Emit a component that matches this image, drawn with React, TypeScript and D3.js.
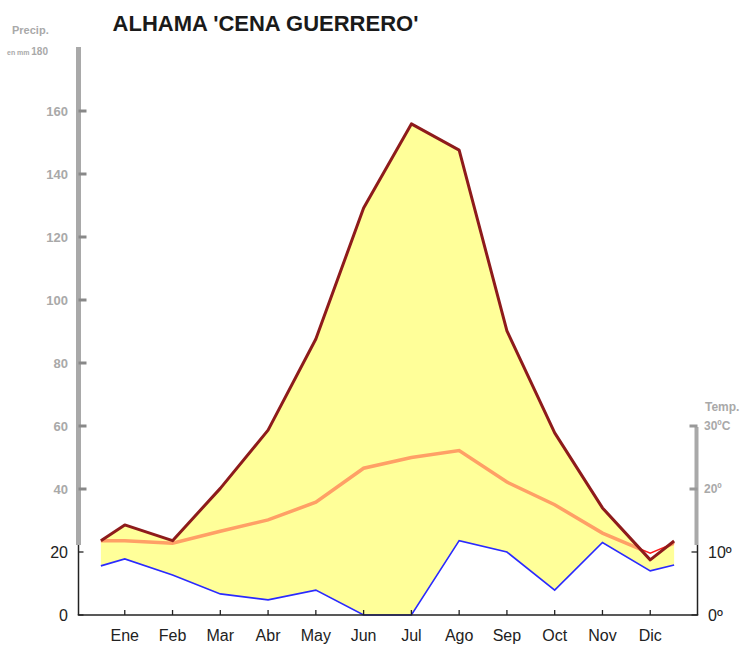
import React from "react";
import * as d3 from "d3";

const title = "ALHAMA 'CENA GUERRERO'";
const months = ["Ene", "Feb", "Mar", "Abr", "May", "Jun", "Jul", "Ago", "Sep", "Oct", "Nov", "Dic"];
// series positions (month index; half-month points at both ends)
const positions = [0.5, 1, 2, 3, 4, 5, 6, 7, 8, 9, 10, 11, 12, 12.5];
const precip = [23.6, 28.6, 23.6, 40.2, 58.7, 87.6, 129.2, 155.9, 147.6, 90.2, 57.8, 34, 17.5, 23.5];
const temp = [11.8, 11.8, 11.4, 13.3, 15.1, 17.9, 23.3, 25, 26.1, 21.1, 17.5, 13, 9.8, 11.4];
const blueSeries = [15.6, 17.8, 12.7, 6.7, 4.8, 7.9, 0, 0, 23.6, 20, 7.9, 23, 14, 15.9];
const precipTicks = [0, 20, 40, 60, 80, 100, 120, 140, 160];
const tempTicks = [0, 10, 20, 30];

const W = 744;
const H = 650;

export default function App() {
  const x = d3.scaleLinear().domain([0, 13]).range([77, 698]);
  const y = d3.scaleLinear().domain([0, 180]).range([615, 48]);
  const yT = d3.scaleLinear().domain([0, 90]).range([615, 48]);

  const idx = positions.map((_, i) => i);
  const area = d3
    .area<number>()
    .x((i) => x(positions[i]))
    .y0((i) => y(blueSeries[i]))
    .y1((i) => y(precip[i]))(idx) as string;
  const precipLine = d3.line<number>().x((i) => x(positions[i])).y((i) => y(precip[i]))(idx) as string;
  const tempLine = d3.line<number>().x((i) => x(positions[i])).y((i) => yT(temp[i]))(idx) as string;
  const blueLine = d3.line<number>().x((i) => x(positions[i])).y((i) => y(blueSeries[i]))(idx) as string;

  const axL = 78.5;
  const axR = 697.5;
  const base = y(0);
  const grayBreak = 545;
  const font = "Arial, 'Liberation Sans', sans-serif";
  const gray = "#a9a9a9";

  return (
    <svg width={W} height={H} style={{ position: "absolute", left: 0, top: 0, background: "#fff" }} fontFamily={font}>
      <defs>
        <clipPath id="areaClip">
          <path d={area} />
        </clipPath>
      </defs>
      {/* title */}
      <text x={265.5} y={31} textAnchor="middle" fontSize={22} fontWeight="bold" fill="#1a1a1a">
        {title}
      </text>
      {/* left axis title */}
      <text x={12} y={34} fontSize={11} fill={gray} fontWeight="bold">Precip.</text>
      <text x={7} y={55} fontSize={7} fill={gray} fontWeight="bold">en mm</text>
      <text x={48} y={55} fontSize={10} fill={gray} fontWeight="bold" textAnchor="end">180</text>

      {/* data */}
      <path d={area} fill="#ffff99" />
      <path d={tempLine} fill="none" stroke="#ff1a1a" strokeWidth={1.5} />
      <path d={tempLine} fill="none" stroke="#ffa066" strokeWidth={3.5} clipPath="url(#areaClip)" />
      <path d={blueLine} fill="none" stroke="#2a2aff" strokeWidth={1.6} />
      <path d={precipLine} fill="none" stroke="#8e1b1b" strokeWidth={3} strokeLinejoin="round" />

      {/* left axis */}
      <line x1={axL} x2={axL} y1={47} y2={grayBreak} stroke={gray} strokeWidth={5} />
      <line x1={axL} x2={axL} y1={grayBreak} y2={base} stroke="#222" strokeWidth={1.5} />
      {precipTicks.map((t) => {
        const isGray = y(t) < grayBreak;
        return (
          <g key={"pt" + t}>
            <line
              x1={axL}
              x2={isGray ? axL + 8 : axL + 5}
              y1={y(t)}
              y2={y(t)}
              stroke={isGray ? "#888" : "#222"}
              strokeWidth={isGray ? 3 : 1.3}
            />
            <text
              x={68}
              y={y(t)}
              dy="0.36em"
              textAnchor="end"
              fontSize={isGray ? 13 : 16}
              fontWeight={isGray ? "bold" : "normal"}
              fill={isGray ? gray : "#222"}
            >
              {t}
            </text>
          </g>
        );
      })}

      {/* right axis */}
      <line x1={axR - 1} x2={axR - 1} y1={427} y2={grayBreak} stroke={gray} strokeWidth={4} />
      <line x1={axR} x2={axR} y1={grayBreak} y2={base} stroke="#222" strokeWidth={1.5} />
      {tempTicks.map((t) => {
        const isGray = yT(t) < grayBreak;
        return (
          <g key={"tt" + t}>
            <line
              x1={isGray ? axR - 8 : axR - 6}
              x2={axR}
              y1={yT(t)}
              y2={yT(t)}
              stroke={isGray ? "#999" : "#222"}
              strokeWidth={isGray ? 3 : 1.3}
            />
            <text
              x={isGray ? 704 : 708}
              y={yT(t)}
              dy="0.36em"
              fontSize={isGray ? 12 : 16}
              fontWeight={isGray ? "bold" : "normal"}
              fill={isGray ? gray : "#222"}
            >
              {t === 30 ? "30ºC" : t + "º"}
            </text>
          </g>
        );
      })}
      <text x={705} y={411} fontSize={12} fontWeight="bold" fill={gray}>Temp.</text>

      {/* bottom axis */}
      <line x1={axL - 0.75} x2={axR + 0.75} y1={base} y2={base} stroke="#222" strokeWidth={1.5} />
      {months.map((m, i) => (
        <g key={m}>
          <line x1={x(i + 1)} x2={x(i + 1)} y1={base} y2={base - 5} stroke="#222" strokeWidth={1.3} />
          <text x={x(i + 1)} y={641} textAnchor="middle" fontSize={16} fill="#222">
            {m}
          </text>
        </g>
      ))}
    </svg>
  );
}
